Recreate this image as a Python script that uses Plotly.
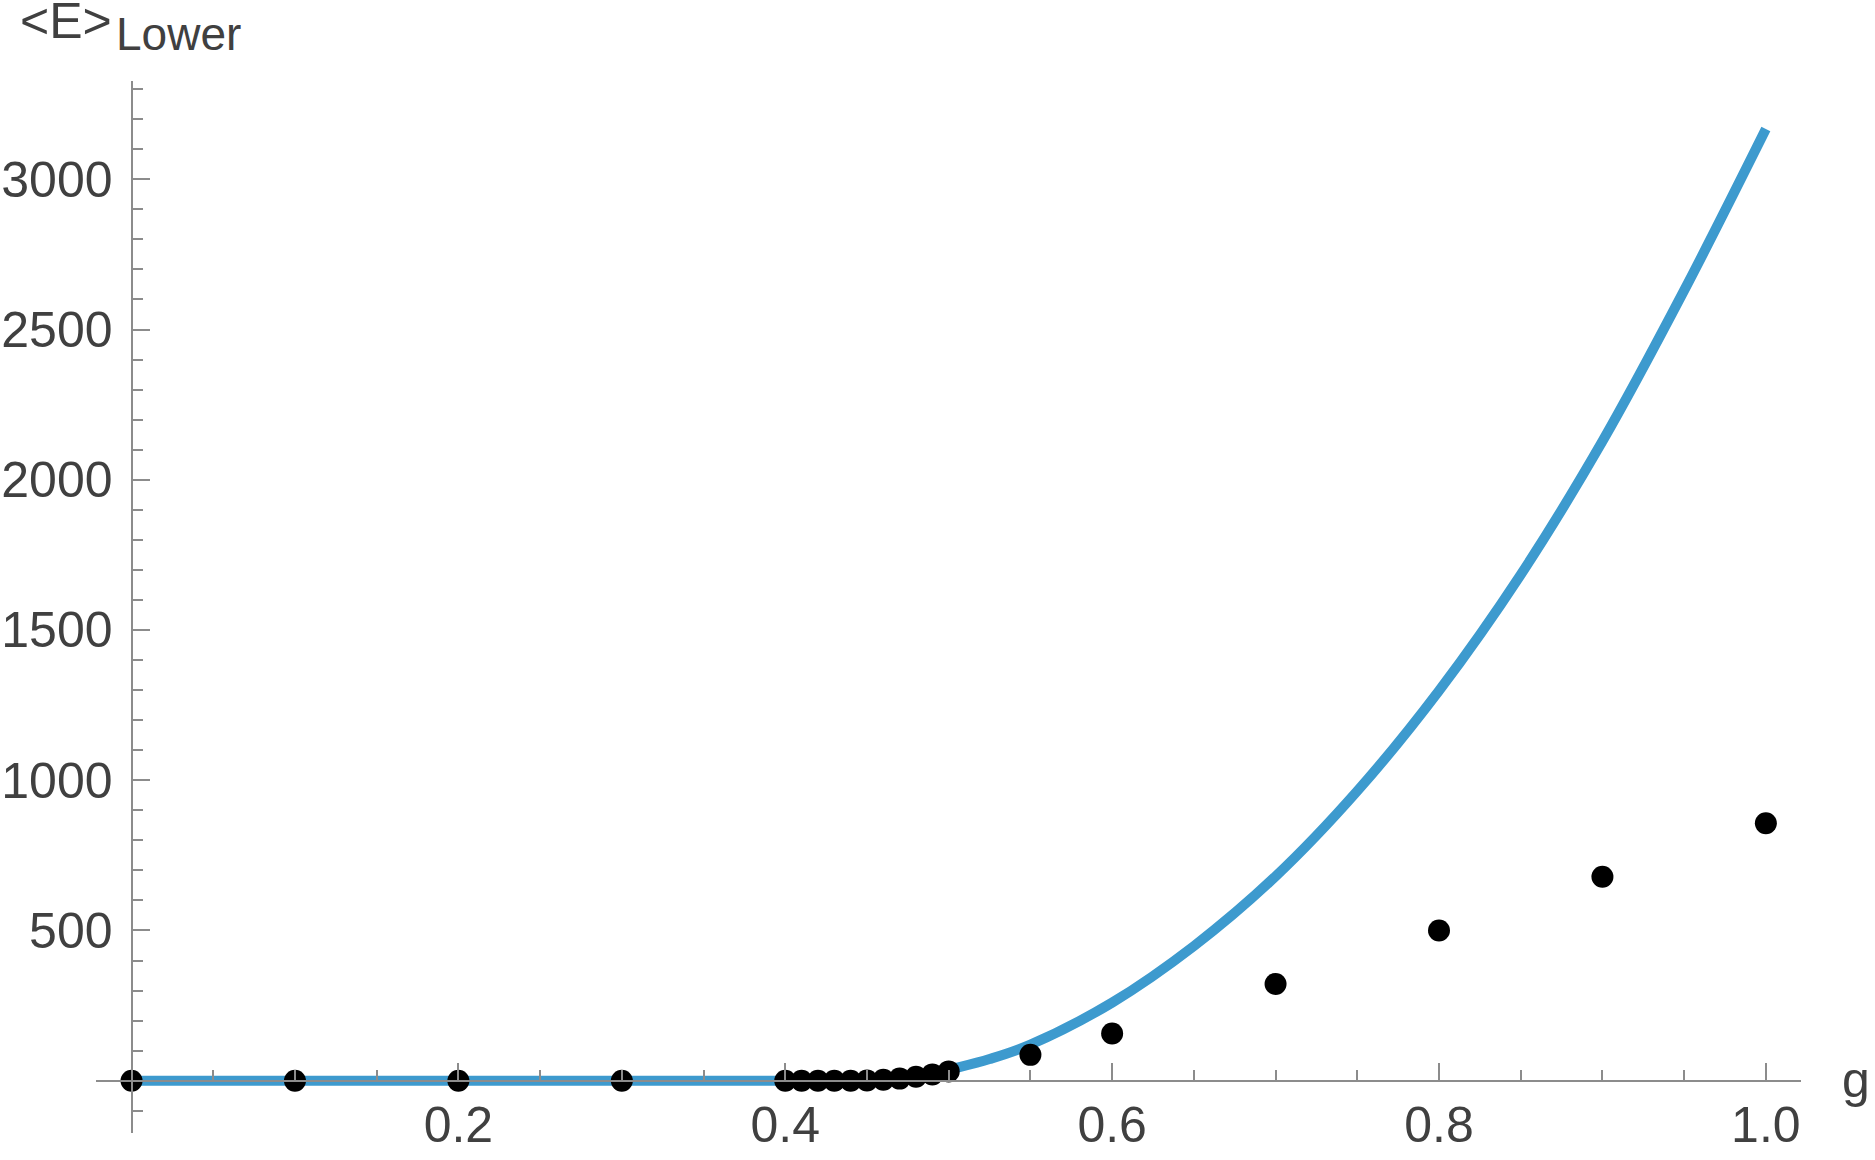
import plotly.graph_objects as go

# ---- data ----
g_points = [0.0, 0.1, 0.2, 0.3, 0.4, 0.41, 0.42, 0.43, 0.44, 0.45, 0.46, 0.47,
            0.48, 0.49, 0.5, 0.55, 0.6, 0.7, 0.8, 0.9, 1.0]
e_points = [0, 0, 0, 0, 0, 0, 0, 0, 0, 1, 3, 7,
            13, 21, 31, 86, 157, 322, 500, 679, 857]

g_curve = [0.0, 0.1, 0.2, 0.3, 0.4, 0.45, 0.47, 0.49, 0.5, 0.525, 0.55, 0.6, 0.65,
           0.7, 0.75, 0.8, 0.85, 0.9, 0.95, 1.0]
e_curve = [0, 0, 0, 0, 0, 0, 6, 22, 36, 72, 120, 260, 448,
           680, 964, 1298, 1684, 2128, 2630, 3167]

x_major = [0.2, 0.4, 0.6, 0.8, 1.0]
x_major_text = ["0.2", "0.4", "0.6", "0.8", "1.0"]
x_minor = [0.05, 0.1, 0.15, 0.25, 0.3, 0.35, 0.45, 0.5, 0.55, 0.65, 0.7, 0.75,
           0.85, 0.9, 0.95]
y_major = [500, 1000, 1500, 2000, 2500, 3000]
y_minor = [v for v in range(-100, 3400, 100) if v % 500 != 0]

# ---- layout geometry ----
W, H = 1875, 1160
x_range = [-0.0215, 1.0215]
y_range = [-175, 3328]
x_dom = [96.4 / W, 1801 / W]
y_dom = [1 - 1133.3 / H, 1 - 80.7 / H]

x_axis_pos = y_dom[0] + (0 - y_range[0]) / (y_range[1] - y_range[0]) * (y_dom[1] - y_dom[0])
y_axis_pos = x_dom[0] + (0 - x_range[0]) / (x_range[1] - x_range[0]) * (x_dom[1] - x_dom[0])

FONT = "Liberation Sans, Arial, sans-serif"
TXT = "#404040"
AX = "#8c8c8c"
BLUE = "#3d9ace"

fig = go.Figure()
fig.add_trace(go.Scatter(
    x=g_curve, y=e_curve, mode="lines",
    line=dict(color=BLUE, width=10, shape="spline", smoothing=1.0),
    hoverinfo="skip"))
fig.add_trace(go.Scatter(
    x=g_points, y=e_points, mode="markers",
    marker=dict(color="black", size=22, line=dict(width=0))))

fig.update_layout(
    width=W, height=H, autosize=False,
    margin=dict(l=0, r=0, t=0, b=0, pad=0, autoexpand=False),
    paper_bgcolor="white", plot_bgcolor="white",
    showlegend=False,
    font=dict(family=FONT, color=TXT, size=50),
    xaxis=dict(
        range=x_range, domain=x_dom, anchor="free", position=x_axis_pos,
        automargin=False,
        showgrid=False, zeroline=False,
        showline=True, linecolor=AX, linewidth=2,
        tickmode="array", tickvals=x_major, ticktext=x_major_text,
        ticks="inside", ticklen=17, tickwidth=1.5, tickcolor=AX,
        tickfont=dict(family=FONT, size=50, color=TXT),
        ticklabelstandoff=0,
        minor=dict(tickmode="array", tickvals=x_minor, ticks="inside",
                   ticklen=10, tickwidth=1.5, tickcolor=AX, showgrid=False),
    ),
    yaxis=dict(
        range=y_range, domain=y_dom, anchor="free", position=y_axis_pos,
        automargin=False,
        showgrid=False, zeroline=False,
        showline=True, linecolor=AX, linewidth=2,
        tickmode="array", tickvals=y_major, ticktext=[str(v) for v in y_major],
        ticks="inside", ticklen=17, tickwidth=1.5, tickcolor=AX,
        tickfont=dict(family=FONT, size=50, color=TXT),
        ticklabelstandoff=8,
        minor=dict(tickmode="array", tickvals=y_minor, ticks="inside",
                   ticklen=10, tickwidth=1.5, tickcolor=AX, showgrid=False),
    ),
    annotations=[
        dict(text="&lt;E&gt;", xref="paper", yref="paper", x=18 / W, y=1 - 21 / H,
             xanchor="left", yanchor="middle", showarrow=False,
             font=dict(family=FONT, size=50, color=TXT)),
        dict(text="Lower", xref="paper", yref="paper", x=114 / W, y=1 - 34 / H,
             xanchor="left", yanchor="middle", showarrow=False,
             font=dict(family=FONT, size=46, color=TXT)),
        dict(text="g", xref="paper", yref="paper", x=1840 / W, y=1 - 1080 / H,
             xanchor="left", yanchor="middle", showarrow=False,
             font=dict(family=FONT, size=50, color=TXT)),
    ],
)

fig.write_html("out.html",
               config={"displayModeBar": False},
               post_script="document.body.style.margin='0';document.body.style.overflow='hidden';")
